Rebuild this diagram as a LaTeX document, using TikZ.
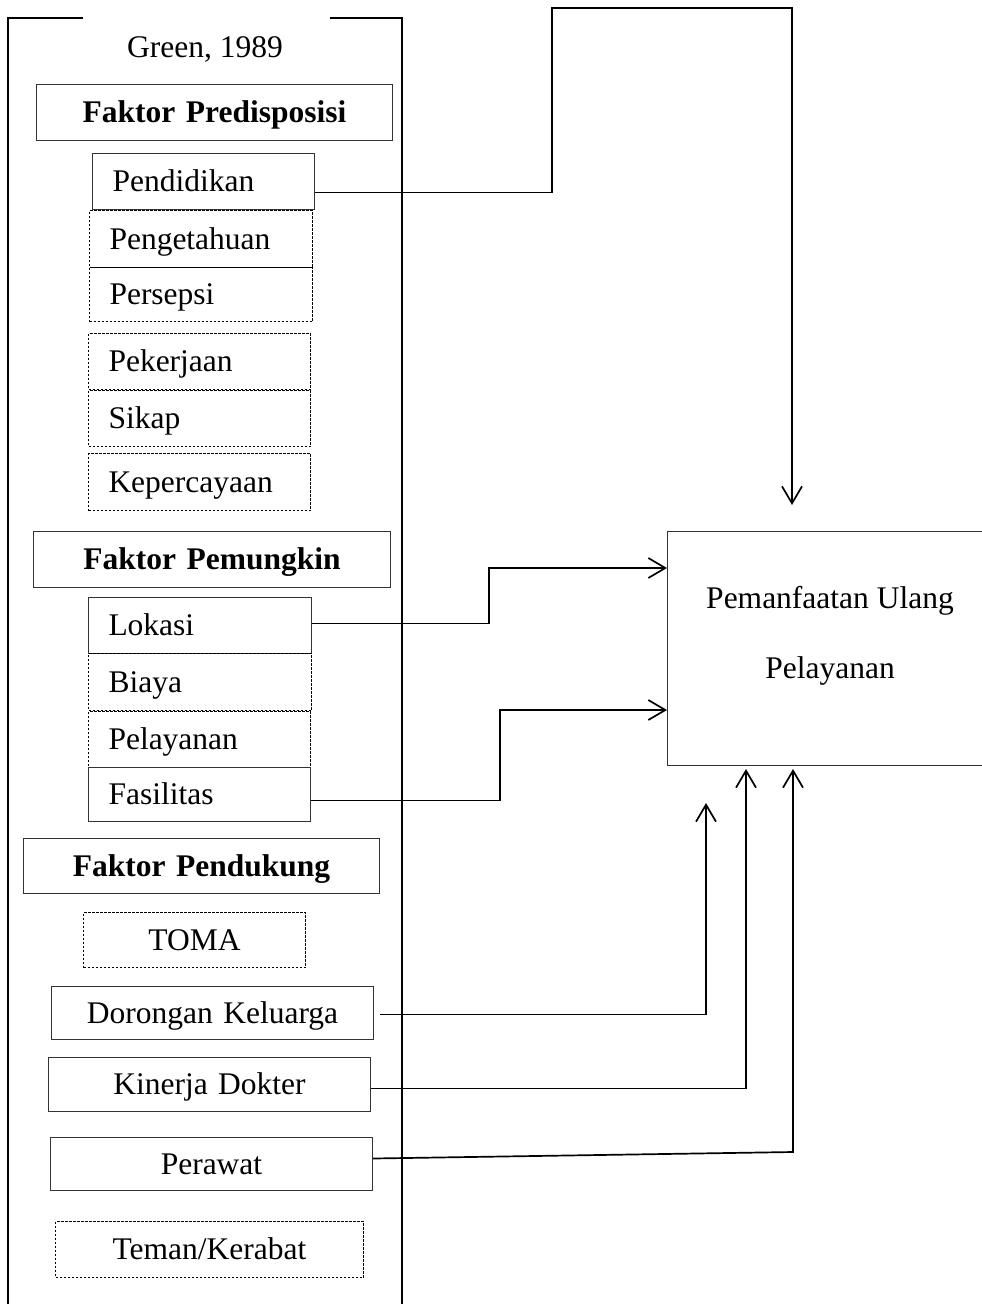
\documentclass[tikz,border=0pt]{standalone}
\usepackage{fontspec}
\setmainfont{Liberation Serif}
\usetikzlibrary{arrows.meta}
\begin{document}
\begin{tikzpicture}[x=1pt,y=-1pt,
  every node/.style={font=\fontsize{31.5}{38}\selectfont, text height=28.3pt, text depth=7.5pt},
  basebox/.style={anchor=north west, line width=1pt, inner ysep=0pt},
  solidbox/.style={basebox, draw=black!80},
  dotbox/.style={basebox, draw=black, line width=1pt, dash pattern=on 2.5pt off 1.5pt},
  leftitem/.style={inner xsep=20pt, align=left},
  centitem/.style={inner xsep=0pt, align=center},
  header/.style={solidbox, centitem, font=\fontsize{31.5}{38}\selectfont\bfseries},
  frame/.style={line width=1.2pt, draw=black},
  conn/.style={line width=1.7pt, draw=black},
  arr/.style={conn, -{Straight Barb[length=17pt,width=20pt]}}
]
\useasboundingbox (0,0) rectangle (982,1304);

% outer frame
\draw[frame] (83,18) -- (8,18) -- (8,1310);
\draw[frame] (330,18) -- (402,18) -- (402,1310);
\node (title) at (205,47) {Green, 1989};

% Faktor Predisposisi
\node[header, text width=356pt, minimum height=56pt] (hpre) at (36,84) {Faktor Predisposisi};
\node[solidbox, leftitem, text width=182pt, minimum height=56pt] (pend) at (92,153) {Pendidikan};
\node[dotbox, leftitem, text width=183pt, minimum height=57pt] (peng) at (89,210) {Pengetahuan};
\node[dotbox, leftitem, text width=183pt, minimum height=54pt] (pers) at (89,267) {Persepsi};
\node[dotbox, leftitem, text width=182pt, minimum height=56pt] (pek) at (88,333) {Pekerjaan};
\node[dotbox, leftitem, text width=182pt, minimum height=56pt] (sik) at (88,390) {Sikap};
\node[dotbox, leftitem, text width=182pt, minimum height=57pt] (kep) at (88,453) {Kepercayaan};

% Faktor Pemungkin
\node[header, text width=357pt, minimum height=56pt] (hpem) at (33,531) {Faktor Pemungkin};
\node[solidbox, leftitem, text width=183pt, minimum height=56pt] (lok) at (88,597) {Lokasi};
\node[dotbox, leftitem, text width=183pt, minimum height=57pt] (bia) at (88,653) {Biaya};
\node[dotbox, leftitem, text width=182pt, minimum height=56pt] (pel) at (88,711) {Pelayanan};
\node[solidbox, leftitem, text width=182pt, minimum height=54pt] (fas) at (88,767) {Fasilitas};

% Faktor Pendukung
\node[header, text width=356pt, minimum height=55pt] (hpen) at (23,838) {Faktor Pendukung};
\node[dotbox, centitem, text width=222pt, minimum height=55pt] (toma) at (83,912) {TOMA};
\node[solidbox, centitem, text width=322pt, minimum height=53pt] (dor) at (51,986) {Dorongan Keluarga};
\node[solidbox, centitem, text width=322pt, minimum height=54pt] (kin) at (48,1057) {Kinerja Dokter};
\node[solidbox, centitem, text width=322pt, minimum height=53pt] (per) at (50,1137) {Perawat};
\node[dotbox, centitem, text width=308pt, minimum height=56pt] (tem) at (55,1221) {Teman/Kerabat};

% Outcome box
\node[solidbox, minimum width=326pt, minimum height=234pt] (out) at (667,531) {};
\node (outa) at (830,598) {Pemanfaatan Ulang};
\node (outb) at (830,668) {Pelayanan};

% arrow targets
\coordinate (tipA) at (792,505);
\coordinate (inL) at ([yshift=-37pt]out.north west);
\coordinate (inF) at ([yshift=-179pt]out.north west);
\coordinate (tipD) at (706,803);
\coordinate (tipK) at ([xshift=79pt,yshift=-3pt]out.south west);
\coordinate (tipP) at ([xshift=126pt,yshift=-3pt]out.south west);

% connectors
\draw[arr] ([yshift=-11pt]pend.east) -| (552,8) -| (tipA);
\draw[arr] ([yshift=2pt]lok.east) -- ++(177,0) |- (inL);
\draw[arr] ([yshift=-6pt]fas.east) -- ++(189,0) |- (inF);
\draw[arr] ([xshift=6pt,yshift=-1.5pt]dor.east) -| (tipD);
\draw[arr] ([yshift=-4pt]kin.east) -| (tipK);
\draw[arr] ([yshift=5.5pt]per.east) -- (tipP |- 0,1152) -- (tipP);
\end{tikzpicture}
\end{document}
